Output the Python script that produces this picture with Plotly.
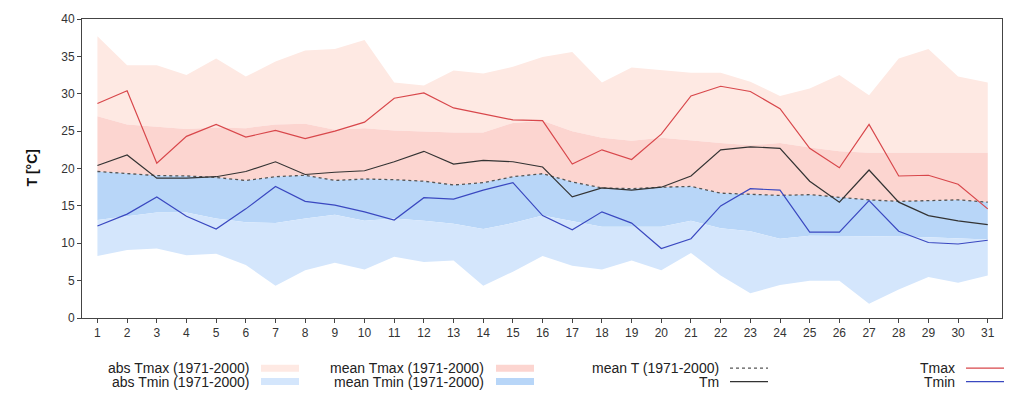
import plotly.graph_objects as go

days = list(range(1, 32))

abs_tmax = [37.7, 33.8, 33.8, 32.5, 34.7, 32.3, 34.3, 35.8, 36.0, 37.2, 31.5, 31.1, 33.1, 32.7, 33.6, 34.9,
            35.6, 31.5, 33.5, 33.2, 32.8, 32.8, 31.6, 29.7, 30.7, 32.5, 29.8, 34.7, 36.0, 32.3, 31.5]
mean_tmax = [27.0, 25.9, 25.6, 25.3, 25.5, 25.4, 25.9, 26.0, 25.2, 25.4, 25.1, 25.0, 24.8, 24.8, 26.1, 26.4,
             25.0, 24.1, 23.7, 24.1, 23.7, 23.4, 23.1, 23.4, 22.8, 22.3, 22.1, 22.1, 22.1, 22.2, 22.1]
mean_t = [19.6, 19.3, 19.05, 19.0, 18.8, 18.4, 18.9, 19.1, 18.4, 18.6, 18.5, 18.3, 17.8, 18.1, 18.9, 19.3,
          18.2, 17.4, 17.3, 17.5, 17.6, 16.7, 16.5, 16.4, 16.5, 16.1, 15.8, 15.6, 15.7, 15.8, 15.5]
mean_tmin = [13.1, 13.6, 14.1, 14.1, 13.3, 12.8, 12.7, 13.3, 13.8, 13.0, 13.3, 13.0, 12.6, 11.9, 12.7, 13.7,
             13.0, 12.2, 12.2, 12.2, 13.0, 12.0, 11.6, 10.6, 11.0, 11.0, 10.9, 10.9, 10.8, 10.7, 10.5]
abs_tmin = [8.3, 9.1, 9.3, 8.4, 8.6, 7.1, 4.3, 6.4, 7.4, 6.5, 8.2, 7.5, 7.7, 4.3, 6.2, 8.3,
            7.0, 6.5, 7.7, 6.4, 8.7, 5.7, 3.3, 4.4, 5.0, 5.0, 1.9, 3.8, 5.5, 4.7, 5.7]
tmax = [28.7, 30.4, 20.7, 24.3, 25.9, 24.2, 25.1, 24.0, 25.0, 26.2, 29.4, 30.1, 28.1, 27.3, 26.5, 26.4,
        20.6, 22.5, 21.2, 24.6, 29.7, 31.0, 30.3, 28.0, 22.7, 20.1, 25.9, 19.0, 19.1, 17.9, 14.6]
tm = [20.4, 21.8, 18.7, 18.7, 18.9, 19.6, 20.9, 19.2, 19.5, 19.7, 20.9, 22.3, 20.6, 21.1, 20.9, 20.2,
      16.2, 17.4, 17.1, 17.5, 19.0, 22.5, 22.9, 22.7, 18.3, 15.5, 19.8, 15.5, 13.7, 13.0, 12.5]
tmin = [12.3, 13.9, 16.2, 13.6, 11.9, 14.6, 17.6, 15.6, 15.1, 14.2, 13.1, 16.1, 15.9, 17.1, 18.1, 13.7,
        11.8, 14.2, 12.7, 9.3, 10.6, 15.0, 17.3, 17.1, 11.5, 11.5, 15.7, 11.6, 10.1, 9.9, 10.4]

y_ticks = [0, 5, 10, 15, 20, 25, 30, 35, 40]

C_ABS_TMAX = "#FEE9E3"
C_MEAN_TMAX = "#FCD5D0"
C_MEAN_TMIN = "#B8D6F8"
C_ABS_TMIN = "#D4E6FC"
C_TMAX = "#D8474B"
C_TMIN = "#3A48C0"
C_TM = "#333333"
C_MEANT = "#555555"

fig = go.Figure()

def band(upper, lower, color):
    fig.add_trace(go.Scatter(x=days, y=lower, mode="lines", line=dict(width=0, color=color),
                             showlegend=False, hoverinfo="skip"))
    fig.add_trace(go.Scatter(x=days, y=upper, mode="lines", line=dict(width=0, color=color),
                             fill="tonexty", fillcolor=color, showlegend=False, hoverinfo="skip"))

band(abs_tmax, mean_tmax, C_ABS_TMAX)
band(mean_tmax, mean_t, C_MEAN_TMAX)
band(mean_t, mean_tmin, C_MEAN_TMIN)
band(mean_tmin, abs_tmin, C_ABS_TMIN)

fig.add_trace(go.Scatter(x=days, y=mean_t, mode="lines", line=dict(color=C_MEANT, width=1.3, dash="dot"),
                         showlegend=False))
fig.add_trace(go.Scatter(x=days, y=tm, mode="lines", line=dict(color=C_TM, width=1.2), showlegend=False))
fig.add_trace(go.Scatter(x=days, y=tmax, mode="lines", line=dict(color=C_TMAX, width=1.2), showlegend=False))
fig.add_trace(go.Scatter(x=days, y=tmin, mode="lines", line=dict(color=C_TMIN, width=1.2), showlegend=False))

# Legend built from annotations + small swatches (text right-aligned, then swatch)
L, R, T, B = 82, 22, 17, 76
W, H = 1024, 394
pw, ph = W - L - R, H - T - B

def px(x):
    return (x - L) / pw

def py(y):
    return (H - B - y) / ph

legend_items = [
    ("abs Tmax (1971-2000)", 251, 368.5, "fill", C_ABS_TMAX),
    ("abs Tmin (1971-2000)", 251, 382, "fill", C_ABS_TMIN),
    ("mean Tmax (1971-2000)", 486, 368.5, "fill", C_MEAN_TMAX),
    ("mean Tmin (1971-2000)", 486, 382, "fill", C_MEAN_TMIN),
    ("mean T (1971-2000)", 721, 368.5, "dot", C_MEANT),
    ("Tm", 721, 382, "solid", C_TM),
    ("Tmax", 957, 368.5, "solid", C_TMAX),
    ("Tmin", 957, 382, "solid", C_TMIN),
]
shapes = []
annotations = []
for text, xr, yc, kind, col in legend_items:
    annotations.append(dict(text=text, x=px(xr), y=py(yc), xref="paper", yref="paper",
                            xanchor="right", yanchor="middle", showarrow=False,
                            font=dict(size=14, color="#222222", family="Liberation Sans, Arial")))
    if kind == "fill":
        shapes.append(dict(type="rect", xref="paper", yref="paper",
                           x0=px(xr + 10), x1=px(xr + 48), y0=py(yc + 3.5), y1=py(yc - 3.5),
                           fillcolor=col, line=dict(width=0)))
    else:
        shapes.append(dict(type="line", xref="paper", yref="paper",
                           x0=px(xr + 9), x1=px(xr + 47), y0=py(yc), y1=py(yc),
                           line=dict(color=col, width=1.3, dash="dot" if kind == "dot" else "solid")))

annotations.append(dict(text="<b>T [°C]</b>", x=px(31), y=0.5, xref="paper", yref="paper",
                        textangle=-90, showarrow=False, xanchor="center", yanchor="middle",
                        font=dict(size=14, color="#111111", family="Liberation Sans, Arial")))

fig.update_layout(
    width=W, height=H,
    margin=dict(l=L, r=R, t=T, b=B),
    paper_bgcolor="white", plot_bgcolor="white",
    showlegend=False,
    shapes=shapes,
    annotations=annotations,
    font=dict(family="Liberation Sans, Arial", size=12, color="#333333"),
    xaxis=dict(range=[0.48, 31.48], tickmode="array", tickvals=days, ticktext=[str(d) for d in days],
               showgrid=False, zeroline=False, showline=True, linecolor="#444444", linewidth=1,
               mirror=True, ticks="outside", ticklen=4, tickcolor="#444444",
               tickfont=dict(size=12, color="#333333")),
    yaxis=dict(range=[0, 40], tickmode="array", tickvals=y_ticks, ticktext=[str(v) for v in y_ticks],
               showgrid=False, zeroline=False, showline=True, linecolor="#444444", linewidth=1,
               mirror=True, ticks="outside", ticklen=4, tickcolor="#444444",
               tickfont=dict(size=12, color="#333333")),
)

fig.write_html("out.html", config={"displayModeBar": False},
               post_script="document.body.style.margin='0';document.body.style.overflow='hidden';")
